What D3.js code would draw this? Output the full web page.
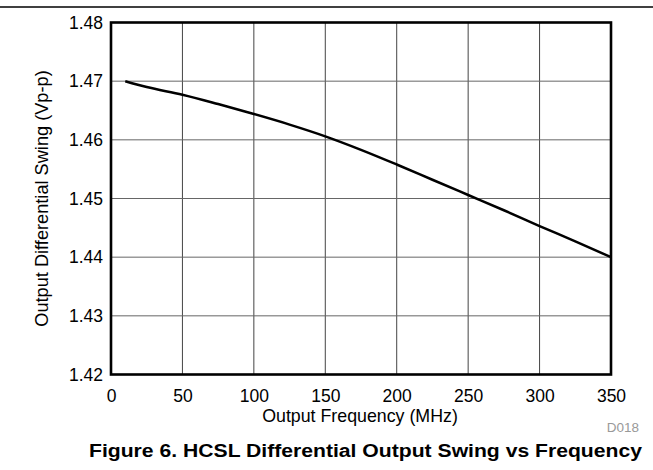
<!DOCTYPE html>
<html>
<head>
<meta charset="utf-8">
<script src="https://cdn.jsdelivr.net/npm/d3@7"></script>
<style>
  body { margin: 0; background: #fff; }
  svg { display: block; font-family: "Liberation Sans", Arial, sans-serif; }
</style>
</head>
<body>
<svg id="chart" width="653" height="470"></svg>
<script>
const freqMHz = [10, 25, 50, 75, 100, 125, 150, 175, 200, 225, 250, 275, 300, 325, 350];
const swingVpp = [1.4700, 1.4690, 1.4677, 1.4661, 1.4644, 1.4626, 1.4606, 1.4583, 1.4558, 1.4532, 1.4506, 1.4480, 1.4453, 1.4427, 1.4400];
const xTicks = [0, 50, 100, 150, 200, 250, 300, 350];
const yTicks = [1.42, 1.43, 1.44, 1.45, 1.46, 1.47, 1.48];
const xTitle = "Output Frequency (MHz)";
const yTitle = "Output Differential Swing (Vp-p)";
const figTitle = "Figure 6. HCSL Differential Output Swing vs Frequency";
const figCode = "D018";

const svg = d3.select("#chart");
const m = { left: 111, right: 611, top: 22.5, bottom: 374.5 };

const x = d3.scaleLinear().domain([0, 350]).range([m.left, m.right]);
const y = d3.scaleLinear().domain([1.42, 1.48]).range([m.bottom, m.top]);

// top rule
svg.append("line").attr("x1", 0).attr("x2", 653).attr("y1", 7).attr("y2", 7)
  .attr("stroke", "#000").attr("stroke-width", 1.5);

// grid
svg.append("g").selectAll("line").data(xTicks.slice(1, -1)).join("line")
  .attr("x1", d => x(d)).attr("x2", d => x(d))
  .attr("y1", m.top).attr("y2", m.bottom)
  .attr("stroke", "#444").attr("stroke-width", 1);
svg.append("g").selectAll("line").data(yTicks.slice(1, -1)).join("line")
  .attr("x1", m.left).attr("x2", m.right)
  .attr("y1", d => y(d)).attr("y2", d => y(d))
  .attr("stroke", "#666").attr("stroke-width", 1);

// axes (labels only)
const xAxis = svg.append("g").attr("transform", `translate(0,${m.bottom})`)
  .call(d3.axisBottom(x).tickValues(xTicks).tickSize(0).tickPadding(15).tickFormat(d3.format("d")));
xAxis.select(".domain").remove();
xAxis.selectAll("text").attr("font-size", 17.5).attr("fill", "#000").attr("dy", "0.71em")
  .attr("font-family", "Liberation Sans, Arial, sans-serif");

const yAxis = svg.append("g").attr("transform", `translate(${m.left},0)`)
  .call(d3.axisLeft(y).tickValues(yTicks).tickSize(0).tickPadding(8).tickFormat(d3.format(".2f")));
yAxis.select(".domain").remove();
yAxis.selectAll("text").attr("font-size", 17.5).attr("fill", "#000")
  .attr("font-family", "Liberation Sans, Arial, sans-serif");

// curve
const line = d3.line().x((d, i) => x(freqMHz[i])).y(d => y(d)).curve(d3.curveMonotoneX);
svg.append("path").datum(swingVpp).attr("d", line)
  .attr("fill", "none").attr("stroke", "#000").attr("stroke-width", 2.5);

// frame
svg.append("rect").attr("x", m.left).attr("y", m.top)
  .attr("width", m.right - m.left).attr("height", m.bottom - m.top)
  .attr("fill", "none").attr("stroke", "#000").attr("stroke-width", 2.6);

// titles
svg.append("text").attr("x", 360).attr("y", 422)
  .attr("text-anchor", "middle").attr("font-size", 17.8).text(xTitle);
svg.append("text").attr("transform", `translate(48,${(m.top + m.bottom) / 2}) rotate(-90)`)
  .attr("text-anchor", "middle").attr("font-size", 18.2).text(yTitle);
svg.append("text").attr("x", 639).attr("y", 432)
  .attr("text-anchor", "end").attr("font-size", 13.5).attr("fill", "#999").text(figCode);
svg.append("text").attr("x", 89).attr("y", 457)
  .attr("textLength", 553).attr("lengthAdjust", "spacingAndGlyphs")
  .attr("font-size", 17.5).attr("font-weight", "bold").text(figTitle);
</script>
</body>
</html>
